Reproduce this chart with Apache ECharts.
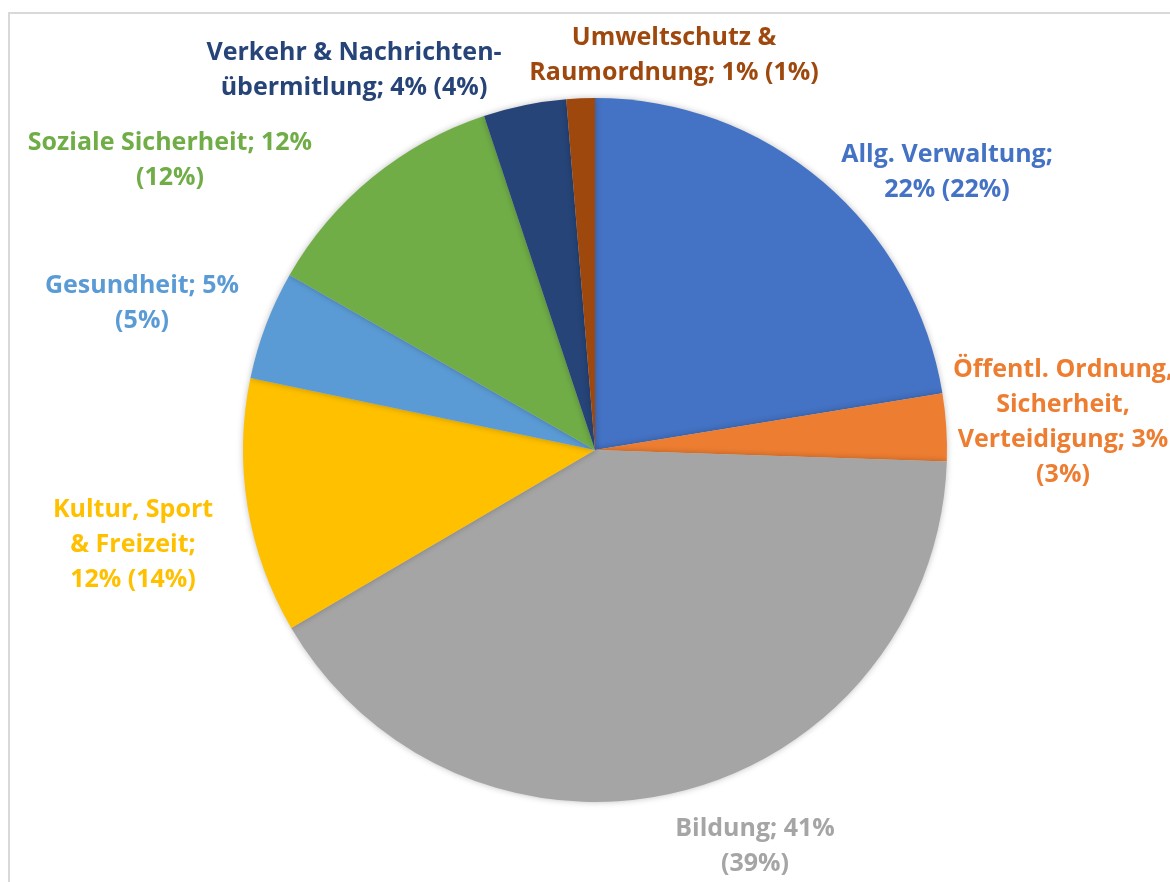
<!DOCTYPE html>
<html>
<head>
<meta charset="utf-8">
<script src="https://cdn.jsdelivr.net/npm/echarts@6/dist/echarts.min.js"></script>
<style>
  html, body { margin: 0; padding: 0; background: #fff; }
  #chart { width: 1170px; height: 882px; }
</style>
</head>
<body>
<div id="chart"></div>
<script>
  // Anteile (aktuell, in %) und Vorjahreswerte in Klammern
  const names = [
    'Allg. Verwaltung',
    'Öffentl. Ordnung,\nSicherheit,\nVerteidigung',
    'Bildung',
    'Kultur, Sport\n& Freizeit',
    'Gesundheit',
    'Soziale Sicherheit',
    'Verkehr & Nachrichten-\nübermitlung',
    'Umweltschutz &\nRaumordnung'
  ]
  const shares = [22.4, 3.1, 41.0, 11.7, 5.0, 11.6, 3.8, 1.3]
  const previous = [22, 3, 39, 14, 5, 12, 4, 1]

  const colors = ['#4472C4', '#ED7D31', '#A5A5A5', '#FFC000', '#5B9BD5', '#70AD47', '#264478', '#9E480E']

  // Umbruch im Label: nach dem Namen / vor der Klammer
  const breaks = [['\n', ' '], [' ', '\n'], [' ', '\n'], ['\n', ' '], [' ', '\n'], [' ', '\n'], [' ', ' '], [' ', ' ']]
  // Label-Mittelpunkte (Layout)
  const labelAt = [[947, 172], [1063, 422], [755, 846], [133, 545], [142, 303], [170, 160], [354, 70], [674, 55]]

  let chart = echarts.init(document.getElementById('chart'))
  let option = {
    animation: false,
    color: colors,
    graphic: [{
      type: 'rect',
      shape: { x: 9, y: 13, width: 1200, height: 900 },
      style: { fill: 'none', stroke: '#d9d9d9', lineWidth: 2 }
    }],
    series: [{
      type: 'pie',
      center: [595, 450],
      radius: 352,
      startAngle: 90,
      clockwise: true,
      avoidLabelOverlap: false,
      itemStyle: {
        shadowBlur: 6,
        shadowColor: 'rgba(0,0,0,0.25)'
      },
      labelLine: { show: false },
      label: {
        show: true,
        position: 'outside',
        fontFamily: 'Open Sans',
        fontWeight: 'bold',
        fontSize: 25,
        lineHeight: 35,
        align: 'center',
        formatter: function (p) {
          let b = breaks[p.dataIndex]
          return p.name + ';' + b[0] + Math.round(p.percent) + '%' + b[1] + '(' + previous[p.dataIndex] + '%)'
        }
      },
      labelLayout: function (params) {
        let pos = labelAt[params.dataIndex]
        return { x: pos[0], y: pos[1], align: 'center', verticalAlign: 'middle' }
      },
      data: names.map(function (n, i) {
        return { name: n, value: shares[i], label: { color: colors[i] } }
      })
    }]
  }
  chart.setOption(option)
</script>
</body>
</html>
